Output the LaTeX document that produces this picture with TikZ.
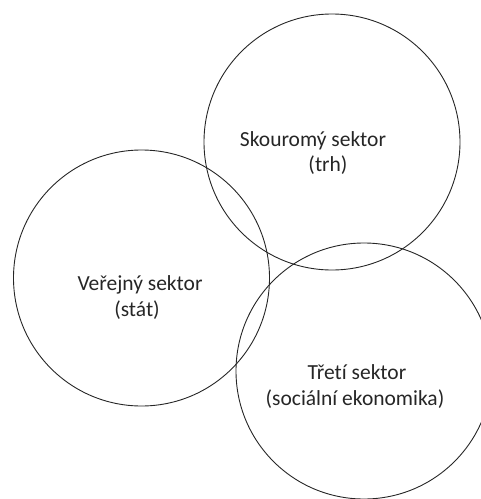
\documentclass[tikz,border=0pt]{standalone}
\usepackage{fontspec}
\setmainfont{Carlito}[Ligatures={NoCommon}]
\begin{document}
\begin{tikzpicture}[x=1pt,y=-1pt,
  sector/.style={circle, draw=black!85, line width=0.9pt, minimum size=256pt, inner sep=0pt},
  lbl/.style={anchor=base, inner sep=0pt, text=black!85, font=\fontsize{21.5}{26}\selectfont}]
\useasboundingbox (0,0) rectangle (481,499);
\clip (0,0) rectangle (481,499);
\node[sector] (trh) at (332,142) {};
\node[sector] (stat) at (141.5,278) {};
\node[sector] (treti) at (364,371) {};
\node[lbl] (t1) at (313,146) {Skouromý sektor};
\node[lbl] (t2) at (328,171) {(trh)};
\node[lbl] (s1) at (140,290) {Veřejný sektor};
\node[lbl] (s2) at (137,316) {(stát)};
\node[lbl] (e1) at (357,379) {Třetí sektor};
\node[lbl] (e2) at (355,405) {(sociální ekonomika)};
\end{tikzpicture}
\end{document}
